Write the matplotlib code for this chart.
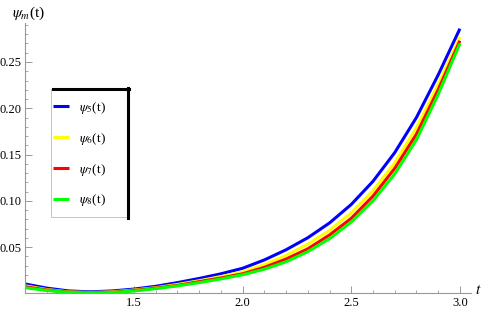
import matplotlib
matplotlib.use("Agg")
import matplotlib.pyplot as plt
from matplotlib.lines import Line2D
from matplotlib.patches import Rectangle
from matplotlib.ticker import MultipleLocator, FixedLocator

plt.rcParams['font.family'] = ['Liberation Serif', 'DejaVu Serif']
plt.rcParams['mathtext.fontset'] = 'stix'

t = [1.0, 1.1, 1.2, 1.3, 1.4, 1.5, 1.6, 1.7, 1.8, 1.9, 2.0,
     2.1, 2.2, 2.3, 2.4, 2.5, 2.6, 2.7, 2.8, 2.9, 3.0]
psi5 = [0.010, 0.0055, 0.0025, 0.0015, 0.0025, 0.0045, 0.0075, 0.0115, 0.016, 0.021, 0.027,
        0.036, 0.047, 0.060, 0.076, 0.096, 0.121, 0.152, 0.190, 0.236, 0.286]
psi6 = [0.008, 0.004, 0.0015, 0.0008, 0.0015, 0.0035, 0.006, 0.0095, 0.0135, 0.018, 0.023,
        0.031, 0.041, 0.053, 0.068, 0.087, 0.111, 0.141, 0.179, 0.226, 0.277]
psi7 = [0.007, 0.0035, 0.0012, 0.0005, 0.001, 0.003, 0.0055, 0.0085, 0.0125, 0.0165, 0.021,
        0.028, 0.037, 0.048, 0.063, 0.081, 0.105, 0.135, 0.172, 0.220, 0.273]
psi8 = [0.006, 0.003, 0.001, 0.0003, 0.0008, 0.0025, 0.005, 0.008, 0.0115, 0.0155, 0.020,
        0.026, 0.034, 0.045, 0.059, 0.077, 0.100, 0.129, 0.166, 0.215, 0.270]
series = [psi5, psi6, psi7, psi8]
labels = [r'$\psi_5$(t)', r'$\psi_6$(t)', r'$\psi_7$(t)', r'$\psi_8$(t)']
colors = ['#0000ff', '#ffff00', '#ff0000', '#00ff00']

xticks = [1.5, 2.0, 2.5, 3.0]
xticklabels = ['1.5', '2.0', '2.5', '3.0']
yticks = [0.05, 0.10, 0.15, 0.20, 0.25]
yticklabels = ['0.05', '0.10', '0.15', '0.20', '0.25']

W, H = 484, 309
fig = plt.figure(figsize=(W / 100, H / 100), dpi=100)
x0, y0px = 25.3, 293.25
xs, ys = 217.3, 925.0
xmax, ymax = 3.05, 0.292
ax = fig.add_axes([x0 / W, (H - y0px) / H, (xmax - 1) * xs / W, ymax * ys / H])

handles = []
for s, c, lab in zip(series, colors, labels):
    h, = ax.plot(t, s, color=c, lw=2.2, label=lab, solid_capstyle='butt',
                 solid_joinstyle='round')
    handles.append(h)

ax.set_xlim(1.0, xmax)
ax.set_ylim(0, ymax)
for sp in ['top', 'right']:
    ax.spines[sp].set_visible(False)
for sp in ['left', 'bottom']:
    ax.spines[sp].set_color('#999999')
    ax.spines[sp].set_linewidth(0.8)

ax.xaxis.set_major_locator(FixedLocator(xticks))
ax.set_xticklabels(xticklabels)
ax.xaxis.set_minor_locator(MultipleLocator(0.1))
ax.yaxis.set_major_locator(FixedLocator(yticks))
ax.set_yticklabels(yticklabels)
ax.yaxis.set_minor_locator(MultipleLocator(0.01))
ax.tick_params(which='major', direction='in', length=5, width=0.7, color='#999999',
               labelsize=9, pad=3)
ax.tick_params(which='minor', direction='in', length=2.5, width=0.6, color='#999999')

fig.text(12 / W, 1 - 13 / H, r'$\psi_m$(t)', fontsize=11, va='center', ha='left')
fig.text(478 / W, 1 - 290 / H, r'$t$', fontsize=11, va='center', ha='center')

# legend frame (drawn below the legend)
fig.add_artist(Rectangle((51 / W, 1 - 217 / H), 76 / W, 128 / H, transform=fig.transFigure,
                         facecolor='white', edgecolor='#bbbbbb', lw=0.6, zorder=2))
fig.add_artist(Line2D([53 / W, 129 / W], [1 - 89 / H, 1 - 89 / H], color='black', lw=2.2,
                      transform=fig.transFigure, zorder=3))
fig.add_artist(Line2D([128 / W, 128 / W], [1 - 88 / H, 1 - 218 / H], color='black', lw=2.2,
                      transform=fig.transFigure, zorder=3))

leg = fig.legend(handles, labels, loc='upper left', bbox_to_anchor=(53 / W, 1 - 100 / H),
                 frameon=False, fontsize=9.5, handlelength=1.2, handletextpad=0.75,
                 labelspacing=1.12, borderpad=0, borderaxespad=0)
leg.set_zorder(5)

fig.savefig('out.png', dpi=100)
